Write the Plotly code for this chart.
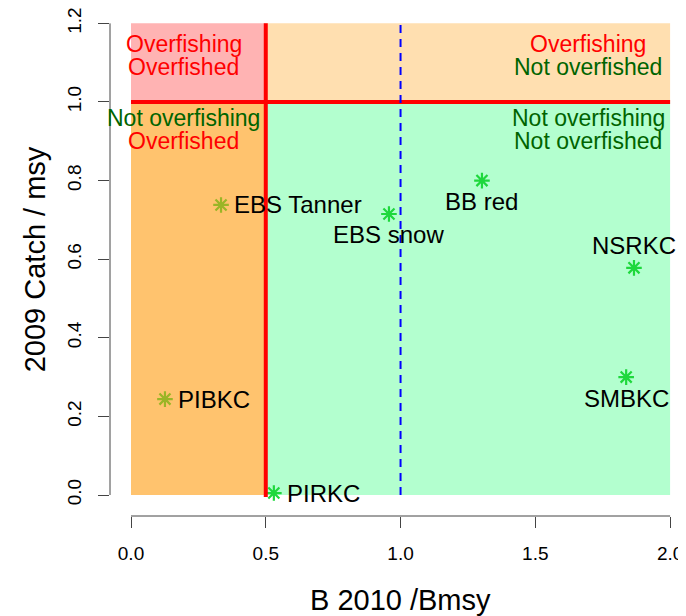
import plotly.graph_objects as go

# ---- data ----
stocks = ["EBS Tanner", "EBS snow", "BB red", "NSRKC", "SMBKC", "PIBKC", "PIRKC"]
b_ratio = [0.334, 0.957, 1.302, 1.866, 1.837, 0.126, 0.530]
catch_ratio = [0.738, 0.715, 0.800, 0.578, 0.300, 0.244, 0.005]
star_colors = ["#9ab526", "#1ed83c", "#1ed83c", "#1ed83c", "#1ed83c", "#9ab526", "#1ed83c"]
label_pos = ["right", "below", "below", "above", "below", "right", "right"]

x_ticks = [0.0, 0.5, 1.0, 1.5, 2.0]
x_tick_labels = ["0.0", "0.5", "1.0", "1.5", "2.0"]
y_ticks = [0.0, 0.2, 0.4, 0.6, 0.8, 1.0, 1.2]
y_tick_labels = ["0.0", "0.2", "0.4", "0.6", "0.8", "1.0", "1.2"]

# quadrant zones: x0, x1, y0, y1, fill
zone_x0 = [0.0, 0.5, 0.0, 0.5]
zone_x1 = [0.5, 2.0, 0.5, 2.0]
zone_y0 = [1.0, 1.0, 0.0, 0.0]
zone_y1 = [1.2, 1.2, 1.0, 1.0]
zone_fill = ["#ffb3b3", "#ffdfb0", "#ffc36e", "#b3ffcf"]

zone_text = ["Overfishing", "Overfished", "Not overfishing", "Overfished",
             "Overfishing", "Not overfished", "Not overfishing", "Not overfished"]
zone_text_x = [0.195, 0.195, 0.195, 0.195, 1.696, 1.696, 1.696, 1.696]
zone_text_y = [1.148, 1.089, 0.959, 0.900, 1.148, 1.089, 0.959, 0.900]
zone_text_color = ["#ff0000", "#ff0000", "#006400", "#ff0000",
                   "#ff0000", "#006400", "#006400", "#006400"]

b_limit = 0.5
f_limit = 1.0
b_target = 1.0

FONT = "Liberation Sans, Arial, sans-serif"

fig = go.Figure()

shapes = []
for x0, x1, y0, y1, c in zip(zone_x0, zone_x1, zone_y0, zone_y1, zone_fill):
    shapes.append(dict(type="rect", xref="x", yref="y", x0=x0, x1=x1, y0=y0, y1=y1,
                       fillcolor=c, line=dict(width=0), layer="below"))
# reference lines
shapes.append(dict(type="line", xref="x", yref="y", x0=b_limit, x1=b_limit, y0=-0.005, y1=1.2,
                   line=dict(color="#ff0000", width=4), layer="above"))
shapes.append(dict(type="line", xref="x", yref="y", x0=0, x1=2, y0=f_limit, y1=f_limit,
                   line=dict(color="#ff0000", width=4), layer="above"))
shapes.append(dict(type="line", xref="x", yref="y", x0=b_target, x1=b_target, y0=0, y1=1.2,
                   line=dict(color="#0000ff", width=2, dash="8px,6px"), layer="above"))
# R-style axis lines (from first to last tick)
shapes.append(dict(type="line", xref="x", yref="paper", x0=x_ticks[0], x1=x_ticks[-1], y0=0, y1=0,
                   line=dict(color="#444444", width=1)))
shapes.append(dict(type="line", xref="paper", yref="y", x0=0, x1=0, y0=y_ticks[0], y1=y_ticks[-1],
                   line=dict(color="#444444", width=1)))

fig.add_trace(go.Scatter(
    x=b_ratio, y=catch_ratio, mode="markers",
    marker=dict(symbol="asterisk", size=13, color=star_colors,
                line=dict(color=star_colors, width=2.2)),
    hoverinfo="text", text=stocks, showlegend=False))

annotations = []
for name, x, y, pos in zip(stocks, b_ratio, catch_ratio, label_pos):
    a = dict(x=x, y=y, xref="x", yref="y", text=name, showarrow=False,
             font=dict(family=FONT, size=24, color="#000000"))
    if pos == "right":
        a.update(xanchor="left", yanchor="middle", xshift=11)
    elif pos == "below":
        a.update(xanchor="center", yanchor="middle", yshift=-21)
    else:
        a.update(xanchor="center", yanchor="middle", yshift=22)
    annotations.append(a)

for t, x, y, c in zip(zone_text, zone_text_x, zone_text_y, zone_text_color):
    annotations.append(dict(x=x, y=y, xref="x", yref="y", text=t, showarrow=False,
                            xanchor="center", yanchor="middle",
                            font=dict(family=FONT, size=23, color=c)))

annotations.append(dict(x=1.0, y=-0.166, xref="x", yref="paper", text="B 2010 /Bmsy",
                        showarrow=False, xanchor="center", yanchor="middle",
                        font=dict(family=FONT, size=29, color="#000000")))
annotations.append(dict(x=-0.130, y=0.6, xref="paper", yref="y", text="2009 Catch / msy",
                        showarrow=False, xanchor="center", yanchor="middle", textangle=-90,
                        font=dict(family=FONT, size=29, color="#000000")))

fig.update_layout(
    width=678, height=608,
    margin=dict(l=102, r=0, t=2, b=100),
    paper_bgcolor="white", plot_bgcolor="white",
    shapes=shapes, annotations=annotations,
    xaxis=dict(range=[-0.0779, 2.059], tickvals=x_ticks, ticktext=x_tick_labels,
               ticks="outside", ticklen=11, tickcolor="#444444", showgrid=False,
               zeroline=False, showline=False, ticklabelstandoff=9,
               ticklabeloverflow="allow", automargin=False,
               tickfont=dict(family=FONT, size=19, color="#000000")),
    yaxis=dict(range=[-0.0534, 1.234], tickvals=y_ticks, ticktext=y_tick_labels,
               ticks="outside", ticklen=11, tickcolor="#444444", showgrid=False,
               zeroline=False, showline=False, tickangle=-90, ticklabelstandoff=9,
               ticklabeloverflow="allow", automargin=False,
               tickfont=dict(family=FONT, size=19, color="#000000")),
)

fig.write_html("out.html")
